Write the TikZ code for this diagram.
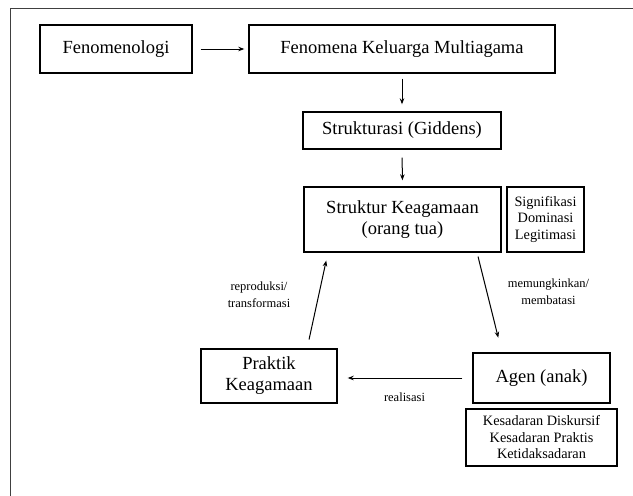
\documentclass[tikz,border=0pt]{standalone}
\usepackage{fontspec}
\setmainfont{Liberation Serif}
\usetikzlibrary{arrows.meta}

\tikzstyle{box}=[draw,black,line width=1.4pt,inner sep=0pt,align=center,font=\fontsize{18.5}{21}\selectfont]
\tikzstyle{smallbox}=[draw,black,line width=1.2pt,inner sep=0pt,align=center,font=\fontsize{14.3}{16.5}\selectfont]
\tikzstyle{note}=[inner sep=0pt,align=center,font=\fontsize{12.5}{17}\selectfont]
\tikzstyle{edge}=[line width=1pt,-{Stealth[length=6pt,width=4.5pt]}]

\begin{document}
\begin{tikzpicture}[x=1pt,y=-1pt]
    \useasboundingbox (0,0) rectangle (633,496);
    \draw[black!75,line width=1.3pt] (10.5,496) -- (10.5,8.5) -- (633,8.5);

    \node (fenom)[box,minimum width=152pt,minimum height=48pt] at (116,49) {Fenomenologi};
    \node (keluarga)[box,minimum width=306pt,minimum height=48pt] at (402,49) {Fenomena Keluarga Multiagama};
    \node (giddens)[box,minimum width=198pt,minimum height=37pt] at (402,130.5) {Strukturasi (Giddens)};
    \node (struktur)[box,minimum width=197pt,minimum height=65pt] at (402.5,219.5) {Struktur Keagamaan\\(orang tua)};
    \node (sdl)[smallbox,minimum width=77pt,minimum height=65pt] at (545.5,219.5) {Signifikasi\\Dominasi\\Legitimasi};
    \node (praktik)[box,minimum width=136pt,minimum height=54pt] at (269,376) {Praktik\\Keagamaan};
    \node (agen)[box,minimum width=137pt,minimum height=50pt] at (541.5,378) {Agen (anak)};
    \node (kesadaran)[smallbox,minimum width=151pt,minimum height=57pt] at (541.5,437.5) {Kesadaran Diskursif\\Kesadaran Praktis\\Ketidaksadaran};

    \node (reproduksi)[note] at (259,295) {reproduksi/\\transformasi};
    \node (memungkinkan)[note] at (548.5,292) {memungkinkan/\\membatasi};
    \node (realisasi)[note] at (404.5,397) {realisasi};

    \draw[edge,shorten <=8pt,shorten >=4pt] (fenom.east) -- (keluarga.west);
    \draw[edge,shorten <=5pt,shorten >=7pt] (keluarga.south) -- (giddens.north);
    \draw[edge,shorten <=8pt,shorten >=6pt] (giddens.south) -- (struktur.north);
    \draw[edge,shorten <=9pt,shorten >=8pt] (praktik.36) -- (struktur.204);
    \draw[edge,shorten <=4pt,shorten >=15pt] (struktur.-24) -- (agen.147);
    \draw[edge,shorten <=10pt,shorten >=10pt] (agen.west) -- (agen.west -| praktik.east);
\end{tikzpicture}
\end{document}
